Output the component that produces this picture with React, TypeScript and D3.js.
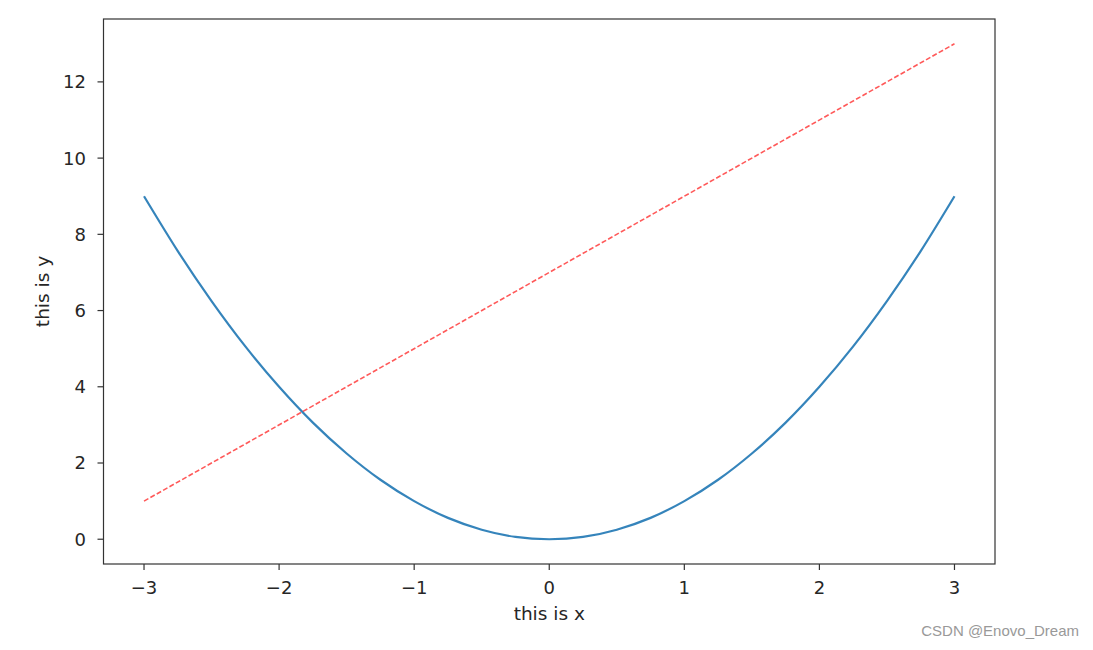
import React from "react";
import * as d3 from "d3";

const curveX = [-3, -2.75, -2.5, -2.25, -2, -1.75, -1.5, -1.25, -1, -0.75, -0.5, -0.25, 0, 0.25, 0.5, 0.75, 1, 1.25, 1.5, 1.75, 2, 2.25, 2.5, 2.75, 3];
const curveY = [9, 7.56, 6.25, 5.06, 4, 3.06, 2.25, 1.56, 1, 0.56, 0.25, 0.06, 0, 0.06, 0.25, 0.56, 1, 1.56, 2.25, 3.06, 4, 5.06, 6.25, 7.56, 9];
const lineX = [-3, 3];
const lineY = [1, 13];
const xTicks = [-3, -2, -1, 0, 1, 2, 3];
const yTicks = [0, 2, 4, 6, 8, 10, 12];

const fmt = (v: number) => (v < 0 ? "\u2212" + Math.abs(v) : String(v));

export default function App() {
  const left = 103.5, right = 995, top = 19, bottom = 564;
  const x = d3.scaleLinear().domain([-3.3, 3.3]).range([left, right]);
  const y = d3.scaleLinear().domain([-0.65, 13.65]).range([bottom, top]);
  const curvePts = curveX.map((v, i) => [v, curveY[i]] as [number, number]);
  const linePts = lineX.map((v, i) => [v, lineY[i]] as [number, number]);
  const gen = d3.line<[number, number]>().x(d => x(d[0])).y(d => y(d[1]));
  const curveGen = d3.line<[number, number]>().x(d => x(d[0])).y(d => y(d[1])).curve(d3.curveNatural);
  const font = "'DejaVu Sans', sans-serif";
  const tc = "#262626";
  const fs = 18;
  return (
    <svg width={1093} height={650} style={{ position: "absolute", left: 0, top: 0, background: "#fff" }}>
      <rect x={0} y={0} width={1093} height={650} fill="#fff" />
      <path d={curveGen(curvePts) || ""} fill="none" stroke="#1f77b4" strokeOpacity={0.9} strokeWidth={2.2} />
      <path d={gen(linePts) || ""} fill="none" stroke="#ff0000" strokeOpacity={0.65} strokeWidth={1.6} strokeDasharray="5,2.3" />
      <rect x={left} y={top} width={right - left} height={bottom - top} fill="none" stroke="#333" strokeWidth={1.2} />
      {xTicks.map(t => (
        <g key={"x" + t}>
          <line x1={x(t)} x2={x(t)} y1={bottom} y2={bottom + 6} stroke="#333" strokeWidth={1.2} />
          <text x={x(t)} y={594} textAnchor="middle" fontFamily={font} fontSize={fs} fill={tc}>{fmt(t)}</text>
        </g>
      ))}
      {yTicks.map(t => (
        <g key={"y" + t}>
          <line x1={left - 6} x2={left} y1={y(t)} y2={y(t)} stroke="#333" strokeWidth={1.2} />
          <text x={86} y={y(t)} dy="0.36em" textAnchor="end" fontFamily={font} fontSize={fs} fill={tc}>{fmt(t)}</text>
        </g>
      ))}
      <text x={(left + right) / 2} y={620} textAnchor="middle" fontFamily={font} fontSize={fs + 0.5} fill={tc}>this is x</text>
      <text transform={`translate(49,${(top + bottom) / 2}) rotate(-90)`} textAnchor="middle" fontFamily={font} fontSize={fs + 0.5} fill={tc}>this is y</text>
      <text x={1079} y={636} textAnchor="end" fontFamily="'Liberation Sans', Arial, sans-serif" fontSize={15} fill="#999">CSDN @Enovo_Dream</text>
    </svg>
  );
}
